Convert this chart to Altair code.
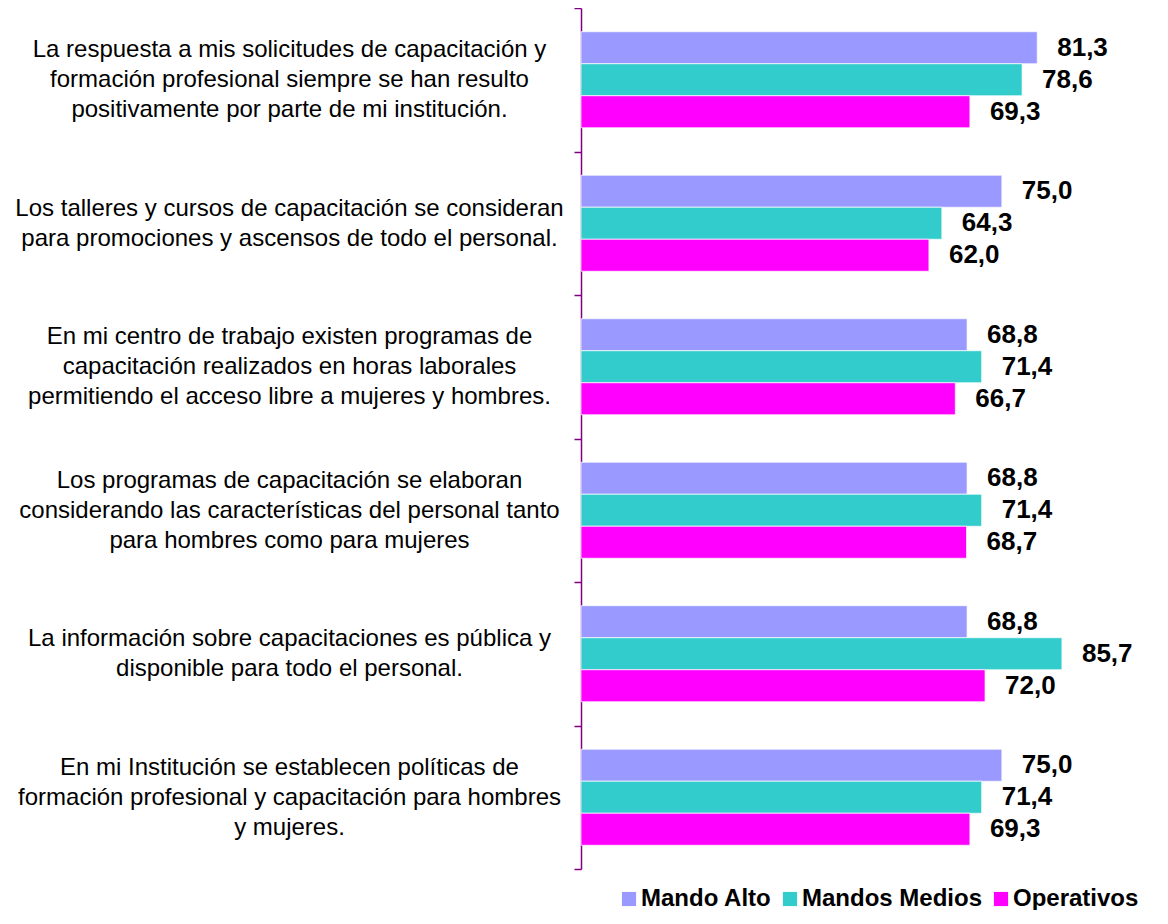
import altair as alt
import pandas as pd

categories = [
    "La respuesta a mis solicitudes de capacitación y|formación profesional siempre se han resulto|positivamente por parte de mi institución.",
    "Los talleres y cursos de capacitación se consideran|para promociones y ascensos de todo el personal.",
    "En mi centro de trabajo existen programas de|capacitación realizados en horas laborales|permitiendo el acceso libre a mujeres y hombres.",
    "Los programas de capacitación se elaboran|considerando las características del personal tanto|para hombres como para mujeres",
    "La información sobre capacitaciones es pública y|disponible para todo el personal.",
    "En mi Institución se establecen políticas de|formación profesional y capacitación para hombres|y mujeres.",
]
series = ["Mando Alto", "Mandos Medios", "Operativos"]
mando_alto = [81.3, 75.0, 68.8, 68.8, 68.8, 75.0]
mandos_medios = [78.6, 64.3, 71.4, 71.4, 85.7, 71.4]
operativos = [69.3, 62.0, 66.7, 68.7, 72.0, 69.3]
colors = ["#9999FF", "#33CCCC", "#FF00FF"]

rows = []
for s, vals in zip(series, [mando_alto, mandos_medios, operativos]):
    for c, v in zip(categories, vals):
        rows.append({"cat": c, "series": s, "value": v})
df = pd.DataFrame(rows)

FONT = "Liberation Sans"
AXIS_COLOR = "#800080"
LINE_H = 30

y_enc = alt.Y(
    "cat:N",
    sort=categories,
    scale=alt.Scale(paddingInner=0, paddingOuter=0),
    axis=alt.Axis(
        title=None,
        labelExpr="split(datum.label, '|')",
        labelAlign="center",
        labelBaseline="middle",
        labelPadding=285,
        labelOffset={
            "condition": {"test": "length(split(datum.label, '|')) == 3", "value": -LINE_H},
            "value": -LINE_H / 2,
        },
        labelFont=FONT,
        labelFontSize=24,
        labelLineHeight=LINE_H,
        labelColor="black",
        labelLimit=0,
        tickBand="extent",
        tickSize=7,
        tickColor=AXIS_COLOR,
        tickWidth=1.5,
        domainColor=AXIS_COLOR,
        domainWidth=1.5,
        grid=False,
    ),
)
yoff = alt.YOffset("series:N", sort=series, scale=alt.Scale(paddingInner=0, paddingOuter=0.742))
x_enc = alt.X("value:Q", scale=alt.Scale(domain=[0, 103], nice=False), axis=None)

bars = alt.Chart(df).mark_bar(stroke="white", strokeWidth=1, strokeOpacity=0.7).encode(
    y=y_enc,
    yOffset=yoff,
    x=x_enc,
    color=alt.Color(
        "series:N",
        sort=series,
        scale=alt.Scale(domain=series, range=colors),
        legend=alt.Legend(
            title=None,
            orient="none",
            direction="horizontal",
            legendX=36,
            legendY=879,
            symbolType="square",
            symbolSize=200,
            symbolStrokeWidth=0,
            labelFont=FONT,
            labelFontSize=24,
            labelFontWeight="bold",
            labelColor="black",
            labelOffset=0,
            columnPadding=6,
            labelLimit=0,
        ),
    ),
)

labels = alt.Chart(df).transform_calculate(
    lbl="replace(format(datum.value, '.1f'), '.', ',')"
).mark_text(
    align="left", baseline="middle", dx=20, font=FONT, fontSize=26, fontWeight="bold", color="black"
).encode(
    y=alt.Y("cat:N", sort=categories),
    yOffset=yoff,
    x=x_enc,
    text="lbl:N",
)

chart = alt.layer(bars, labels).properties(
    width=578,
    height=861,
    autosize=alt.AutoSizeParams(type="none"),
    padding={"left": 573, "top": 0, "right": 0, "bottom": 41},
).configure_view(stroke=None)

chart.save("out.html", embed_options={"renderer": "svg", "actions": False})
